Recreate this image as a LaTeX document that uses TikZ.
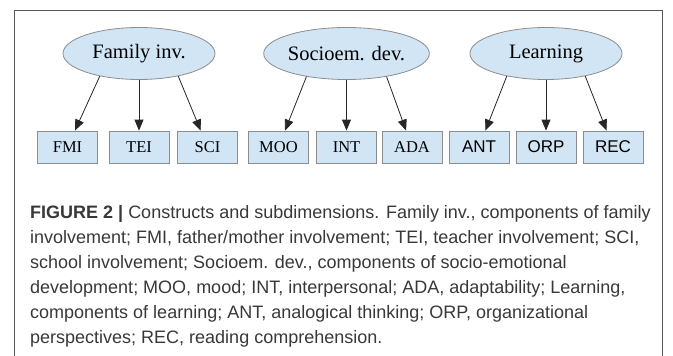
\documentclass[tikz,border=0pt]{standalone}
\usepackage{fontspec}
\setmainfont{Liberation Serif}
\setsansfont{Liberation Sans}
\usetikzlibrary{shapes.geometric,arrows.meta}
\definecolor{nodefill}{HTML}{D2E5F5}
\definecolor{nodeline}{HTML}{8C8C8C}
\definecolor{captxt}{HTML}{383838}
\definecolor{framecol}{HTML}{555555}
\begin{document}
\begin{tikzpicture}[x=1pt,y=-1pt,
  topnode/.style={ellipse,draw=nodeline,fill=nodefill,minimum width=152pt,minimum height=52pt,inner sep=0pt,line width=0.8pt,font=\fontsize{20.5}{24}\selectfont},
  subbox/.style={rectangle,draw=nodeline,fill=nodefill,minimum width=60pt,minimum height=32pt,inner sep=0pt,line width=0.8pt,font=\fontsize{16.5}{19}\selectfont},
  subboxsf/.style={subbox,font=\sffamily\fontsize{17}{20}\selectfont},
  link/.style={draw=black!85,line width=0.8pt,-{Triangle[length=11pt,width=9pt]}},
  capline/.style={anchor=base west,inner sep=0pt,text=captxt,font=\sffamily\fontsize{18}{22}\selectfont}]
\useasboundingbox (0,0) rectangle (673,356);
\draw[framecol,line width=1pt] (14,357) -- (14,10) -- (662,10) -- (662,357);

\node[topnode] (fam) at (139,53.5) {Family inv.};
\node[topnode] (soc) at (346.5,53.5) {Socioem. dev.};
\node[topnode] (lea) at (546,53.5) {Learning};

\node[subbox] (fmi) at (67.5,147) {FMI};
\node[subbox] (tei) at (139,147) {TEI};
\node[subbox] (sci) at (207.5,147) {SCI};
\node[subbox] (moo) at (278.5,147) {MOO};
\node[subbox] (int) at (346.5,147) {INT};
\node[subbox] (ada) at (412,147) {ADA};
\node[subboxsf] (ant) at (479,147) {ANT};
\node[subboxsf] (orp) at (546,147) {ORP};
\node[subboxsf] (rec) at (613,147) {REC};

\draw[link] (fam.210) -- (fmi);
\draw[link] (fam.south) -- (tei.north);
\draw[link] (fam.330) -- (sci);
\draw[link] (soc.210) -- (moo);
\draw[link] (soc.south) -- (int.north);
\draw[link] (soc.330) -- (ada);
\draw[link] (lea.210) -- (ant);
\draw[link] (lea.south) -- (orp.north);
\draw[link] (lea.330) -- (rec);

\node[capline] (c1) at (30,218) {\textbf{FIGURE 2 |} Constructs and subdimensions. Family inv., components of family};
\node[capline] (c2) at (30,243) {involvement; FMI, father/mother involvement; TEI, teacher involvement; SCI,};
\node[capline] (c3) at (30,268) {school involvement; Socioem. dev., components of socio-emotional};
\node[capline] (c4) at (30,293) {development; MOO, mood; INT, interpersonal; ADA, adaptability; Learning,};
\node[capline] (c5) at (30,318) {components of learning; ANT, analogical thinking; ORP, organizational};
\node[capline] (c6) at (30,343) {perspectives; REC, reading comprehension.};
\end{tikzpicture}
\end{document}
